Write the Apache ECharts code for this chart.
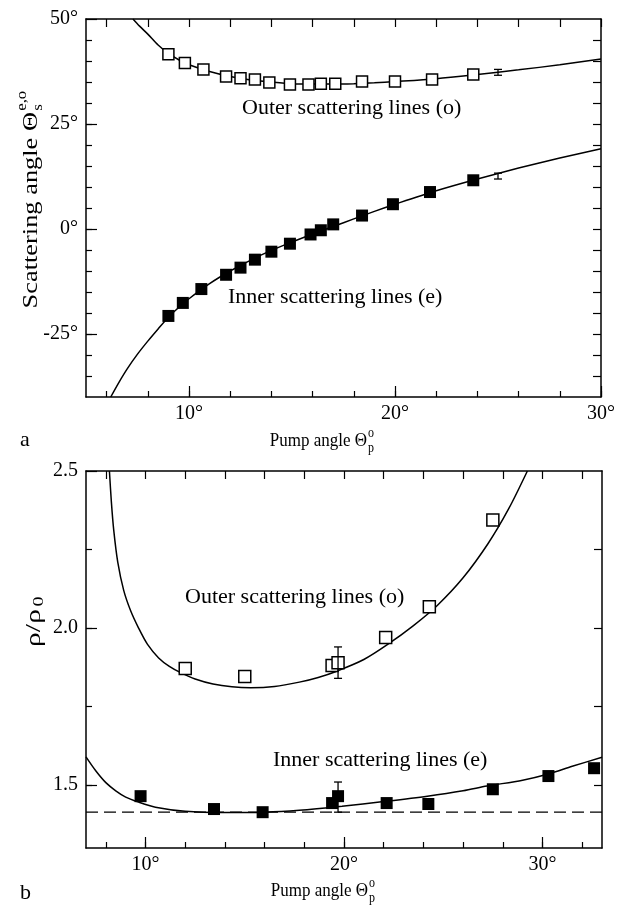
<!DOCTYPE html>
<html>
<head>
<meta charset="utf-8">
<script src="https://cdn.jsdelivr.net/npm/echarts@6/dist/echarts.min.js"></script>
<style>
  html, body { margin: 0; padding: 0; background: #fff; }
  #main { width: 623px; height: 906px; }
</style>
</head>
<body>
<div id="main"></div>
<script>
// ---- panel a: scattering angle vs pump angle ----
var aOuterX = [9.0, 9.8, 10.7, 11.8, 12.5, 13.2, 13.9, 14.9, 15.8, 16.4, 17.1, 18.4, 20.0, 21.8, 23.8];
var aOuterY = [41.6, 39.5, 38.0, 36.3, 35.9, 35.6, 34.9, 34.4, 34.4, 34.6, 34.6, 35.1, 35.1, 35.6, 36.8];
var aInnerX = [9.0, 9.7, 10.6, 11.8, 12.5, 13.2, 14.0, 14.9, 15.9, 16.4, 17.0, 18.4, 19.9, 21.7, 23.8];
var aInnerY = [-20.7, -17.6, -14.3, -10.9, -9.2, -7.3, -5.4, -3.5, -1.3, -0.3, 1.1, 3.2, 5.9, 8.8, 11.6];
var aOuterFitX = [7.28, 7.6, 8, 8.5, 9, 9.5, 10, 11, 12, 13, 14, 15, 16, 17, 18, 19, 20, 22, 24, 26, 28, 30];
var aOuterFitY = [50, 48.3, 46.4, 43.8, 41.8, 40.3, 39.1, 37.5, 36.3, 35.5, 35.0, 34.6, 34.5, 34.5, 34.6, 34.8, 35.1, 35.8, 36.8, 37.9, 39.1, 40.5];
var aInnerFitX = [6.2, 6.6, 7, 7.5, 8, 8.5, 9, 9.5, 10, 11, 12, 13, 14, 15, 16, 17, 18, 19, 20, 22, 24, 26, 28, 30];
var aInnerFitY = [-40, -36.5, -33.3, -29.8, -26.7, -23.8, -21.0, -18.7, -16.6, -13.0, -10.0, -7.4, -5.1, -3.1, -1.2, 0.6, 2.4, 4.2, 5.9, 9.1, 11.9, 14.5, 16.9, 19.1];
var aErrX = [25, 25];
var aErrLo = [36.6, 11.9];
var aErrHi = [38.0, 13.3];
var aXTicks = [6, 8, 10, 12, 14, 16, 18, 20, 22, 24, 26, 28, 30];
var aXLabels = [10, 20, 30];
var aYTicks = [-35, -30, -25, -20, -15, -10, -5, 0, 5, 10, 15, 20, 25, 30, 35, 40, 45];
var aYLabels = [-25, 0, 25, 50];

// ---- panel b: rho/rho0 vs pump angle ----
var bOuterX = [12.0, 15.0, 19.4, 19.7, 22.1, 24.3, 27.5];
var bOuterY = [1.871, 1.846, 1.881, 1.89, 1.97, 2.068, 2.344];
var bInnerX = [9.75, 13.45, 15.9, 19.4, 19.7, 22.15, 24.25, 27.5, 30.3, 32.6];
var bInnerY = [1.465, 1.424, 1.414, 1.443, 1.465, 1.443, 1.44, 1.487, 1.529, 1.554];
var bOuterFitX = [8.18, 8.28, 8.4, 8.6, 8.9, 9.25, 9.65, 10.1, 10.66, 11.2, 11.77, 12.5, 13.4, 14.35, 15.3, 16.5, 17.75, 18.7, 19.6, 21, 22.2, 23.5, 24.7, 26, 27.27, 28.3, 29.24];
var bOuterFitY = [2.5, 2.40, 2.31, 2.21, 2.12, 2.055, 2.0, 1.948, 1.905, 1.878, 1.858, 1.838, 1.822, 1.813, 1.81, 1.814, 1.828, 1.843, 1.862, 1.9, 1.948, 2.008, 2.072, 2.16, 2.27, 2.38, 2.5];
var bInnerFitX = [7, 7.5, 8, 8.5, 9, 9.65, 10.5, 12, 14, 16, 17.75, 19.9, 22, 24.2, 26, 27.2, 29, 30.25, 31.5, 33];
var bInnerFitY = [1.59, 1.545, 1.508, 1.482, 1.462, 1.446, 1.43, 1.417, 1.413, 1.414, 1.42, 1.433, 1.448, 1.465, 1.482, 1.497, 1.516, 1.535, 1.56, 1.589];
var bLimitX = [7, 33];
var bLimitY = [1.414, 1.414];
var bErrX = [19.7, 19.7];
var bErrLo = [1.84, 1.414];
var bErrHi = [1.94, 1.51];
var bXTicks = [8, 10, 12, 14, 16, 18, 20, 22, 24, 26, 28, 30, 32];
var bXLabels = [10, 20, 30];
var bYTicks = [1.5, 1.75, 2.0, 2.25];
var bYLabels = [1.5, 2.0, 2.5];

var SERIF = '"Liberation Serif", "DejaVu Serif", serif';

function zip(xs, ys) { return xs.map(function (x, i) { return [x, ys[i]]; }); }
function zip3(xs, a, b) { return xs.map(function (x, i) { return [x, a[i], b[i]]; }); }

function xAxes(grid, min, max, ticks, labels) {
    var line = { show: true, onZero: false, lineStyle: { color: '#000', width: 1.5 } };
    return [
        { type: 'value', gridIndex: grid, position: 'bottom', min: min, max: max, splitLine: { show: false },
          axisLine: line,
          axisTick: { show: true, inside: true, length: 6, customValues: ticks, lineStyle: { color: '#000', width: 1.2 } },
          axisLabel: { customValues: labels, margin: 7, color: '#000', fontSize: 20, fontFamily: SERIF,
                       formatter: function (v) { return v + '°'; } } },
        { type: 'value', gridIndex: grid, position: 'bottom', min: min, max: max, splitLine: { show: false },
          axisLine: { show: false, onZero: false },
          axisTick: { show: true, inside: true, length: 11, customValues: labels, lineStyle: { color: '#000', width: 1.2 } },
          axisLabel: { show: false } },
        { type: 'value', gridIndex: grid, position: 'top', min: min, max: max, splitLine: { show: false },
          axisLine: line,
          axisTick: { show: true, inside: true, length: 8, customValues: ticks, lineStyle: { color: '#000', width: 1.2 } },
          axisLabel: { show: false } }
    ];
}

function yAxes(grid, min, max, ticks, labels, fmt) {
    var line = { show: true, onZero: false, lineStyle: { color: '#000', width: 1.5 } };
    return [
        { type: 'value', gridIndex: grid, position: 'left', min: min, max: max, splitLine: { show: false },
          axisLine: line,
          axisTick: { show: true, inside: true, length: 6, customValues: ticks, lineStyle: { color: '#000', width: 1.2 } },
          axisLabel: { customValues: labels, margin: 8, color: '#000', fontSize: 20, fontFamily: SERIF, formatter: fmt } },
        { type: 'value', gridIndex: grid, position: 'left', min: min, max: max, splitLine: { show: false },
          axisLine: { show: false, onZero: false },
          axisTick: { show: true, inside: true, length: 11, customValues: labels, lineStyle: { color: '#000', width: 1.2 } },
          axisLabel: { show: false } },
        { type: 'value', gridIndex: grid, position: 'right', min: min, max: max, splitLine: { show: false },
          axisLine: line,
          axisTick: { show: true, inside: true, length: 8, customValues: ticks, lineStyle: { color: '#000', width: 1.2 } },
          axisLabel: { show: false } }
    ];
}

function fitLine(xi, yi, data, dashed) {
    return { type: 'line', xAxisIndex: xi, yAxisIndex: yi, data: data, smooth: dashed ? false : 0.3,
             showSymbol: false, silent: true, clip: true,
             lineStyle: { color: '#000', width: dashed ? 1.3 : 1.5, type: dashed ? [12, 6] : 'solid' } };
}
function squares(xi, yi, data, filled, size) {
    return { type: 'scatter', xAxisIndex: xi, yAxisIndex: yi, data: data, symbol: 'rect', symbolSize: size,
             itemStyle: { color: filled ? '#000' : '#fff', opacity: 1, borderColor: '#000', borderWidth: filled ? 0 : 1.5 }, z: 5 };
}
function errBars(xi, yi, data) {
    return { type: 'custom', xAxisIndex: xi, yAxisIndex: yi, data: data, z: 6,
             encode: { x: 0, y: [1, 2] },
             renderItem: function (params, api) {
                 var lo = api.coord([api.value(0), api.value(1)]);
                 var hi = api.coord([api.value(0), api.value(2)]);
                 var w = 4;
                 var st = { stroke: '#000', lineWidth: 1.3 };
                 return { type: 'group', children: [
                     { type: 'line', shape: { x1: lo[0], y1: lo[1], x2: hi[0], y2: hi[1] }, style: st },
                     { type: 'line', shape: { x1: lo[0] - w, y1: lo[1], x2: lo[0] + w, y2: lo[1] }, style: st },
                     { type: 'line', shape: { x1: hi[0] - w, y1: hi[1], x2: hi[0] + w, y2: hi[1] }, style: st }
                 ] };
             } };
}

function label(text, x, y, size) {
    return { type: 'text', x: x, y: y, style: { text: text, font: size + 'px ' + SERIF, fill: '#000',
             textAlign: 'left', textVerticalAlign: 'middle' } };
}
function pumpTitle(cx, cy) {
    return { type: 'group', x: cx, y: cy, scaleY: 1.15, children: [
        { type: 'text', x: 0, y: 0, style: { text: 'Pump angle Θ', font: '17px ' + SERIF, fill: '#000', textAlign: 'right', textVerticalAlign: 'middle' } },
        { type: 'text', x: 1, y: -7, style: { text: 'o', font: '12px ' + SERIF, fill: '#000', textAlign: 'left', textVerticalAlign: 'middle' } },
        { type: 'text', x: 1, y: 6, style: { text: 'p', font: '12px ' + SERIF, fill: '#000', textAlign: 'left', textVerticalAlign: 'middle' } }
    ] };
}

var myChart = echarts.init(document.getElementById('main'));
var option = {
    animation: false,
    backgroundColor: '#fff',
    textStyle: { fontFamily: SERIF },
    grid: [
        { left: 86, top: 19, width: 515, height: 378 },
        { left: 86, top: 471, width: 516, height: 377 }
    ],
    xAxis: xAxes(0, 5, 30, aXTicks, aXLabels).concat(xAxes(1, 7, 33, bXTicks, bXLabels)),
    yAxis: yAxes(0, -40, 50, aYTicks, aYLabels, function (v) { return v + '°'; })
        .concat(yAxes(1, 1.3, 2.5, bYTicks, bYLabels, function (v) { return v.toFixed(1); })),
    series: [
        fitLine(0, 0, zip(aOuterFitX, aOuterFitY)),
        fitLine(0, 0, zip(aInnerFitX, aInnerFitY)),
        squares(0, 0, zip(aOuterX, aOuterY), false, 11),
        squares(0, 0, zip(aInnerX, aInnerY), true, 12),
        errBars(0, 0, zip3(aErrX, aErrLo, aErrHi)),
        fitLine(3, 3, zip(bOuterFitX, bOuterFitY)),
        fitLine(3, 3, zip(bInnerFitX, bInnerFitY)),
        fitLine(3, 3, zip(bLimitX, bLimitY), true),
        squares(3, 3, zip(bOuterX, bOuterY), false, 12),
        squares(3, 3, zip(bInnerX, bInnerY), true, 12),
        errBars(3, 3, zip3(bErrX, bErrLo, bErrHi))
    ],
    graphic: [
        label('Outer scattering lines (o)', 242, 108, 22),
        label('Inner scattering lines (e)', 228, 297, 22),
        label('Outer scattering lines (o)', 185, 597, 22),
        label('Inner scattering lines (e)', 273, 760, 22),
        label('a', 20, 440, 22),
        label('b', 20, 893, 22),
        pumpTitle(367, 441),
        pumpTitle(368, 891),
        { type: 'group', x: 31, y: 112, rotation: Math.PI / 2, scaleX: 1.2, children: [
            { type: 'text', x: 0, y: 0, style: { text: 'Scattering angle Θ', font: '22px ' + SERIF, fill: '#000', textAlign: 'right', textVerticalAlign: 'middle' } },
            { type: 'text', x: 1, y: -9, style: { text: 'e,o', font: '14px ' + SERIF, fill: '#000', textAlign: 'left', textVerticalAlign: 'middle' } },
            { type: 'text', x: 1, y: 7, style: { text: 's', font: '14px ' + SERIF, fill: '#000', textAlign: 'left', textVerticalAlign: 'middle' } }
        ] },
        { type: 'group', x: 34, y: 628, rotation: Math.PI / 2, scaleX: 1.35, children: [
            { type: 'text', x: 0, y: 0, style: { text: 'ρ/ρ', font: '22px ' + SERIF, fill: '#000', textAlign: 'center', textVerticalAlign: 'middle' } },
            { type: 'text', x: 16, y: 5, style: { text: '0', font: '15px ' + SERIF, fill: '#000', textAlign: 'left', textVerticalAlign: 'middle' } }
        ] }
    ]
};
myChart.setOption(option);
</script>
</body>
</html>
